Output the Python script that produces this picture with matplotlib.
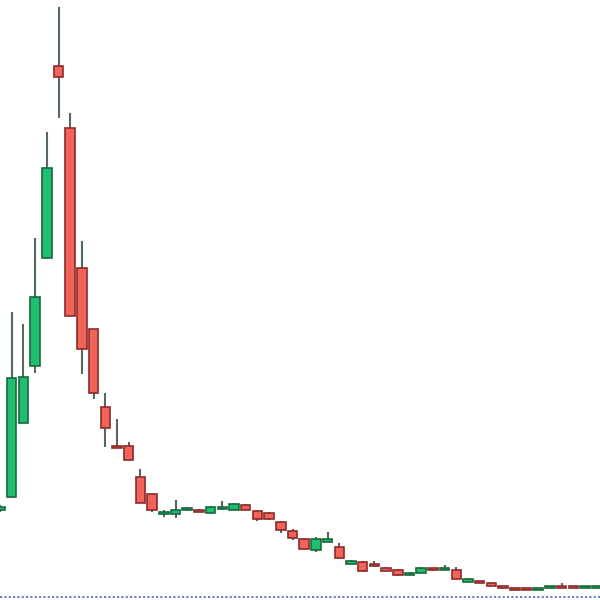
import numpy as np
import matplotlib
matplotlib.use("Agg")
import matplotlib.pyplot as plt

# candle prices, one entry per bar
opens = [90, 103, 177, 234, 342, 534, 472, 332, 271, 193, 154, 154, 123, 106,
         86, 86, 90, 90, 87, 91, 90, 95, 89, 87, 78, 69, 61, 50, 58, 53,
         36, 38, 36, 32, 30, 25, 27, 31, 30, 30, 18, 19, 17, 14, 12, 11,
         10, 12, 14, 13, 12, 12]
highs = [95, 288, 276, 362, 468, 593, 487, 359, 271, 207, 181, 158, 131, 106,
         90, 100, 93, 91, 94, 99, 97, 96, 90, 88, 79, 71, 62, 63, 68, 57,
         40, 39, 39, 33, 31, 28, 33, 32, 35, 33, 22, 19, 17, 14, 12, 11,
         12, 14, 17, 13, 13, 14]
lows = [88, 103, 177, 227, 342, 482, 284, 226, 201, 153, 152, 140, 97, 88,
        83, 82, 89, 88, 87, 90, 90, 90, 79, 80, 67, 60, 50, 48, 58, 41,
        36, 28, 33, 29, 24, 25, 27, 29, 30, 21, 18, 17, 14, 12, 10, 10,
        10, 12, 12, 12, 12, 12]
closes = [93, 222, 223, 303, 432, 523, 284, 251, 207, 172, 152, 140, 97, 90,
          88, 90, 92, 88, 93, 93, 96, 90, 81, 81, 70, 62, 51, 61, 61, 42,
          39, 29, 34, 29, 25, 27, 32, 30, 31, 21, 21, 17, 14, 12, 10, 10,
          12, 14, 12, 12, 13, 14]

up_fill, up_edge = "#1fbf72", "#17683d"
dn_fill, dn_edge = "#f2645a", "#8c2b2b"
wick_col = "#56695f"

o = np.array(opens, float)
c = np.array(closes, float)
x = np.arange(len(o))
up = c >= o

fig = plt.figure(figsize=(6, 6), dpi=100)
ax = fig.add_axes([0, 0, 1, 1])

ax.vlines(x, lows, highs, color=wick_col, linewidth=1.5, zorder=1)

bottom = np.minimum(o, c)
height = np.maximum(np.abs(c - o), 2)
ax.bar(x[up], height[up], bottom=bottom[up], width=0.82,
       color=up_fill, edgecolor=up_edge, linewidth=1.2, zorder=2)
ax.bar(x[~up], height[~up], bottom=bottom[~up], width=0.82,
       color=dn_fill, edgecolor=dn_edge, linewidth=1.2, zorder=2)

ax.axhline(3, color="#5b74c0", linewidth=1.3, linestyle=(0, (1.2, 1.2)), zorder=0)

ax.set_xlim(0, 600 / 11.7)
ax.set_ylim(0, 600)
ax.axis("off")

fig.savefig("out.png", dpi=100, facecolor="white")
